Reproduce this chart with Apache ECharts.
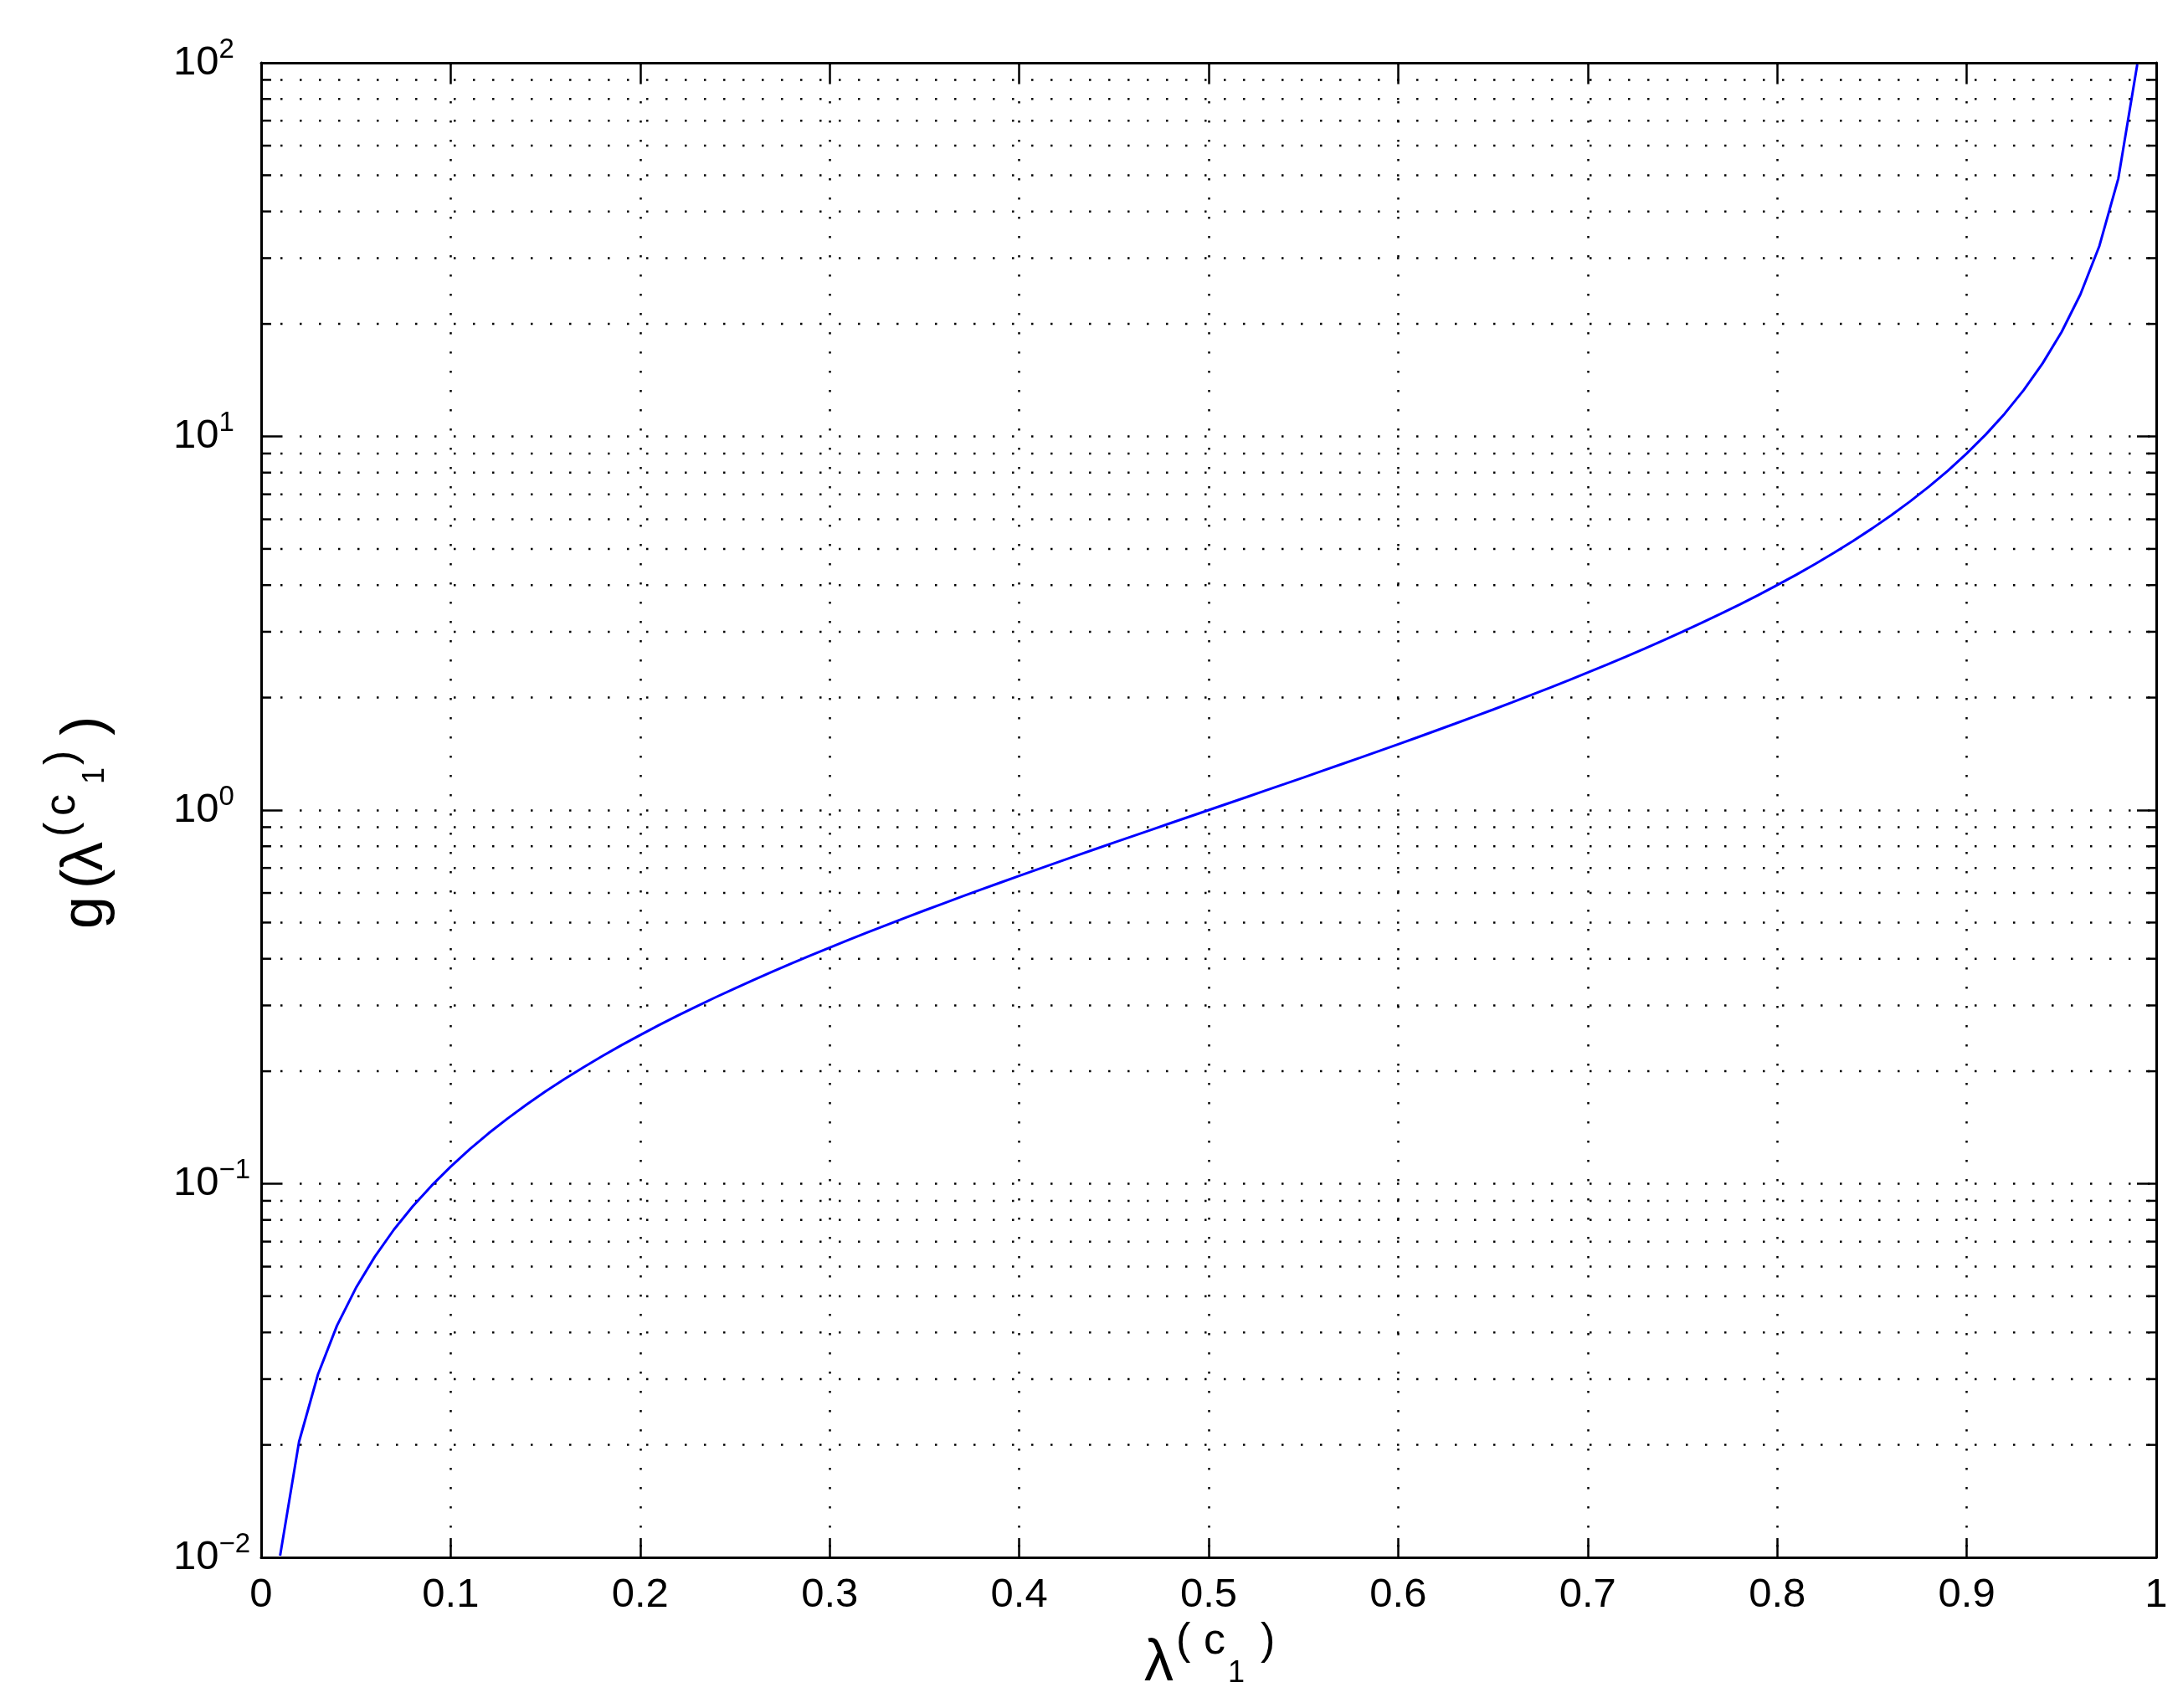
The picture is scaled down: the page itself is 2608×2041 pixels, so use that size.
<!DOCTYPE html>
<html>
<head>
<meta charset="utf-8">
<script src="https://cdn.jsdelivr.net/npm/echarts@6/dist/echarts.min.js"></script>
<style>
html,body{margin:0;padding:0;background:#fff;}
#chart{width:2608px;height:2041px;}
</style>
</head>
<body>
<div id="chart"></div>
<script>
// ---- data ----
var xValues = [0.01,0.02,0.03,0.04,0.05,0.06,0.07,0.08,0.09,0.10,
  0.11,0.12,0.13,0.14,0.15,0.16,0.17,0.18,0.19,0.20,
  0.21,0.22,0.23,0.24,0.25,0.26,0.27,0.28,0.29,0.30,
  0.31,0.32,0.33,0.34,0.35,0.36,0.37,0.38,0.39,0.40,
  0.41,0.42,0.43,0.44,0.45,0.46,0.47,0.48,0.49,0.50,
  0.51,0.52,0.53,0.54,0.55,0.56,0.57,0.58,0.59,0.60,
  0.61,0.62,0.63,0.64,0.65,0.66,0.67,0.68,0.69,0.70,
  0.71,0.72,0.73,0.74,0.75,0.76,0.77,0.78,0.79,0.80,
  0.81,0.82,0.83,0.84,0.85,0.86,0.87,0.88,0.89,0.90,
  0.91,0.92,0.93,0.94,0.95,0.96,0.97,0.98,0.99];
var gValues = [0.0101,0.0204,0.0309,0.0417,0.0526,0.0638,0.0753,0.0870,0.0989,0.1111,
  0.1236,0.1364,0.1494,0.1628,0.1765,0.1905,0.2048,0.2195,0.2346,0.2500,
  0.2658,0.2821,0.2987,0.3158,0.3333,0.3514,0.3699,0.3889,0.4085,0.4286,
  0.4493,0.4706,0.4925,0.5152,0.5385,0.5625,0.5873,0.6129,0.6393,0.6667,
  0.6949,0.7241,0.7544,0.7857,0.8182,0.8519,0.8868,0.9231,0.9608,1.000,
  1.041,1.083,1.128,1.174,1.222,1.273,1.326,1.381,1.439,1.500,
  1.564,1.632,1.703,1.778,1.857,1.941,2.030,2.125,2.226,2.333,
  2.448,2.571,2.704,2.846,3.000,3.167,3.348,3.545,3.762,4.000,
  4.263,4.556,4.882,5.250,5.667,6.143,6.692,7.333,8.091,9.000,
  10.11,11.50,13.29,15.67,19.00,24.00,32.33,49.00,99.00];
var yMajorTicks = [0.01, 0.1, 1, 10, 100];
var yTickExponents = ['\u22122', '\u22121', '0', '1', '2'];
var yMinorTicks = [0.02,0.03,0.04,0.05,0.06,0.07,0.08,0.09,
  0.2,0.3,0.4,0.5,0.6,0.7,0.8,0.9,
  2,3,4,5,6,7,8,9,
  20,30,40,50,60,70,80,90];
var xMin = 0, xMax = 1, xInterval = 0.1;

// ---- chart ----
var FONT = '"Liberation Sans", Arial, Helvetica, sans-serif';
var chart = echarts.init(document.getElementById('chart'), null, {renderer: 'canvas'});

var linePoints = xValues.map(function (x, i) { return [x, gValues[i]]; });
var minorData = yMinorTicks.map(function (v) { return [0, v]; });

function expLabel(v) {
  var e = Math.round(Math.log(v) / Math.LN10);
  var idx = -1;
  for (var i = 0; i < yMajorTicks.length; i++) {
    if (Math.abs(Math.log(yMajorTicks[i]) / Math.LN10 - e) < 1e-6) idx = i;
  }
  if (idx < 0) return '';
  return '{b|10}{s|' + yTickExponents[idx] + '}';
}

var dotted = {color: '#000', width: 2.5, type: [2.5, 20.5]};

function t(text, x, y, size) {
  return {type: 'text', x: x, y: y, silent: true,
    style: {text: text, font: size + 'px ' + FONT, fill: '#000',
      align: 'left', verticalAlign: 'middle', textAlign: 'left', textVerticalAlign: 'middle'}};
}

var option = {
  backgroundColor: '#ffffff',
  animation: false,
  grid: {left: 312, top: 75, right: 32, bottom: 180, containLabel: false, outerBoundsMode: 'none'},
  xAxis: [
    {type: 'value', min: xMin, max: xMax, interval: xInterval, position: 'bottom',
      axisLine: {show: true, onZero: false, lineStyle: {color: '#000', width: 3}},
      axisTick: {show: true, inside: true, length: 23, lineStyle: {color: '#000', width: 2.5}},
      axisLabel: {show: true, margin: 21, color: '#000', fontSize: 49, fontFamily: FONT,
        showMinLabel: true, showMaxLabel: true, hideOverlap: false},
      splitLine: {show: true, lineStyle: dotted}},
    {type: 'value', min: xMin, max: xMax, interval: xInterval, position: 'top',
      axisLine: {show: true, onZero: false, lineStyle: {color: '#000', width: 3}},
      axisTick: {show: true, inside: true, length: 23, lineStyle: {color: '#000', width: 2.5}},
      axisLabel: {show: false}, splitLine: {show: false}}
  ],
  yAxis: [
    {type: 'log', logBase: 10, min: 0.01, max: 100, position: 'left',
      axisLine: {show: true, onZero: false, lineStyle: {color: '#000', width: 3}},
      axisTick: {show: true, inside: true, length: 23, lineStyle: {color: '#000', width: 2.5}},
      axisLabel: {show: true, margin: 105, align: 'left', color: '#000', fontFamily: FONT,
        showMinLabel: true, showMaxLabel: true, hideOverlap: false,
        formatter: expLabel,
        rich: {
          b: {fontSize: 49, fontFamily: FONT, color: '#000', lineHeight: 64, verticalAlign: 'middle'},
          s: {fontSize: 33, fontFamily: FONT, color: '#000', lineHeight: 33, verticalAlign: 'top'}
        }},
      splitLine: {show: true, lineStyle: dotted}},
    {type: 'log', logBase: 10, min: 0.01, max: 100, position: 'right',
      axisLine: {show: true, onZero: false, lineStyle: {color: '#000', width: 3}},
      axisTick: {show: true, inside: true, length: 23, lineStyle: {color: '#000', width: 2.5}},
      axisLabel: {show: false}, splitLine: {show: false}}
  ],
  series: [
    {type: 'custom', xAxisIndex: 0, yAxisIndex: 0, z: 1, silent: true, clip: false,
      data: minorData, encode: {x: 0, y: 1},
      renderItem: function (params, api) {
        var p = api.coord([0, api.value(1)]);
        var cs = params.coordSys;
        var y = p[1];
        var x0 = cs.x, x1 = cs.x + cs.width;
        return {type: 'group', children: [
          {type: 'line', shape: {x1: x0, y1: y, x2: x1, y2: y},
            style: {stroke: '#000', lineWidth: 2.5, lineDash: [2.5, 20.5]}},
          {type: 'line', shape: {x1: x0, y1: y, x2: x0 + 12, y2: y},
            style: {stroke: '#000', lineWidth: 2.5}},
          {type: 'line', shape: {x1: x1 - 12, y1: y, x2: x1, y2: y},
            style: {stroke: '#000', lineWidth: 2.5}}
        ]};
      }},
    {type: 'line', xAxisIndex: 0, yAxisIndex: 0, z: 3, data: linePoints,
      showSymbol: false, symbol: 'none', smooth: false, clip: true,
      lineStyle: {color: '#0000ff', width: 3}}
  ],
  graphic: [
    // x-axis title: λ^(c_1)
    {type: 'group', x: 0, y: 0, children: [
      t('\u03BB', 1367, 1988.7, 70),
      t('(', 1405, 1962, 52),
      t('c', 1438, 1962, 52),
      t('1', 1467, 2000.5, 36),
      t(')', 1506, 1962, 52)
    ]},
    // y-axis title: g(λ^(c_1)), rotated
    {type: 'group', x: 0, y: 1107, rotation: Math.PI / 2, children: [
      t('g', -3, 102.7, 70),
      t('(', 45, 102.7, 70),
      t('\u03BB', 66, 102.7, 70),
      t('(', 107, 75, 52),
      t('c', 132, 75, 52),
      t('1', 170, 114.5, 36),
      t(')', 193, 75, 52),
      t(')', 228, 102.7, 70)
    ]}
  ]
};
chart.setOption(option);
</script>
</body>
</html>
